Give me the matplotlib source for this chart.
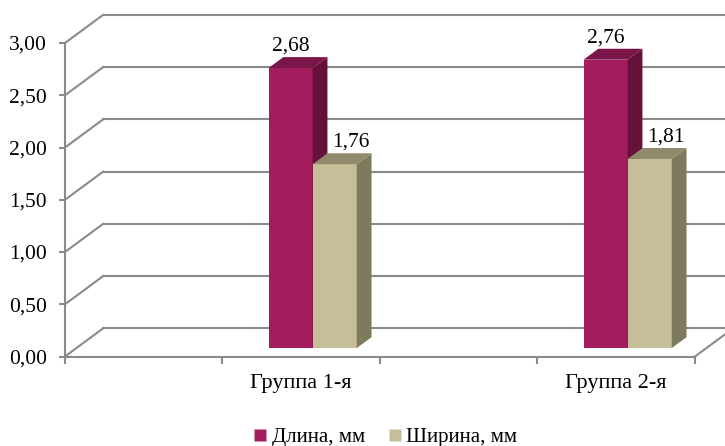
import numpy as np
import matplotlib.pyplot as plt
from matplotlib.patches import Polygon
from matplotlib.lines import Line2D

plt.rcParams['font.family'] = ['Liberation Serif', 'DejaVu Serif']

# data
categories = ["", "Группа 1-я", "", "Группа 2-я"]
series_names = ["Длина, мм", "Ширина, мм"]
dlina = [0, 2.68, 0, 2.76]
shirina = [0, 1.76, 0, 1.81]
yticks = [0, 0.5, 1.0, 1.5, 2.0, 2.5, 3.0]

# 3D look
DX, DY = 0.241, 0.268      # full depth offset in data units
F0, FD = 0.30, 0.39        # bar front depth, bar depth (fractions)
BAR_W = 0.28
GRID = "#8a8a8a"
face = [("#A31C5E", "#7A1547", "#66103A"), ("#C6BE98", "#8F8A6C", "#7D7A5E")]
label_dx = [0, 12]

fig = plt.figure(figsize=(7.25, 4.46), dpi=100)
ax = fig.add_axes([65 / 725, (446 - 356.5) / 446, 630 / 725, 313.5 / 446])
ax.set_xlim(0, len(categories))
ax.set_ylim(0, 3)

# walls / gridlines
for v in yticks:
    ax.plot([0, DX], [v, v + DY], color=GRID, lw=1.5, clip_on=False, zorder=1)
    ax.plot([DX, len(categories) + DX], [v + DY, v + DY], color=GRID, lw=1.5,
            clip_on=False, zorder=1)
ax.plot([len(categories), len(categories) + DX], [0, DY], color=GRID, lw=1.5,
        clip_on=False, zorder=1)

# bars
for s, vals in enumerate([dlina, shirina]):
    front, top, side = face[s]
    for i, v in enumerate(vals):
        if v <= 0:
            continue
        x0 = i + 0.5 - BAR_W + s * BAR_W + F0 * DX
        x1 = x0 + BAR_W
        y0 = F0 * DY
        y1 = v + F0 * DY
        ddx, ddy = FD * DX, FD * DY
        ax.add_patch(Polygon([(x0, y0), (x1, y0), (x1, y1), (x0, y1)],
                             closed=True, fc=front, ec="none", clip_on=False, zorder=3 + s))
        ax.add_patch(Polygon([(x1, y0), (x1, y1), (x1 + ddx, y1 + ddy), (x1 + ddx, y0 + ddy)],
                             closed=True, fc=side, ec="none", clip_on=False, zorder=3 + s))
        ax.add_patch(Polygon([(x0, y1), (x1, y1), (x1 + ddx, y1 + ddy), (x0 + ddx, y1 + ddy)],
                             closed=True, fc=top, ec="none", clip_on=False, zorder=3 + s))
        ax.annotate(f"{v:.2f}".replace(".", ","), xy=((x0 + x1) / 2, y1 + ddy),
                    xytext=(label_dx[s], 8), textcoords="offset points",
                    ha="center", va="center", fontsize=15.5, zorder=6)

# axes styling
for sp in ["top", "right"]:
    ax.spines[sp].set_visible(False)
for sp in ["left", "bottom"]:
    ax.spines[sp].set_color(GRID)
    ax.spines[sp].set_linewidth(1.5)
ax.spines["left"].set_zorder(2)
ax.spines["bottom"].set_zorder(2)

ax.set_yticks(yticks)
ax.set_yticklabels([f"{t:.2f}".replace(".", ",") for t in yticks], fontsize=15.5)
ax.tick_params(axis="y", length=4.3, width=1.5, color=GRID, pad=8.5)

ax.set_xticks(np.arange(len(categories) + 1))
ax.set_xticklabels([])
ax.tick_params(axis="x", which="major", length=5, width=1.5, color=GRID)
ax.set_xticks(np.arange(len(categories)) + 0.5, minor=True)
ax.set_xticklabels(categories, minor=True, fontsize=16)
ax.tick_params(axis="x", which="minor", length=0, pad=12.5)
ax.set_facecolor("none")

handles = [Line2D([], [], marker="s", linestyle="none", markersize=8,
                  markerfacecolor=face[k][0], markeredgecolor="none") for k in range(2)]
fig.legend(handles, series_names, loc="lower center", bbox_to_anchor=(384 / 725, -0.045),
           ncol=2, frameon=False, fontsize=15, handletextpad=0.1, columnspacing=1.0,
           handlelength=0.9)

fig.savefig("out.png", dpi=100)
